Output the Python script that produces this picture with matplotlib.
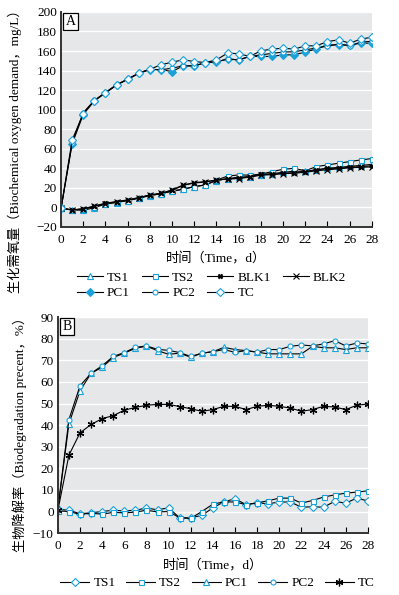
import matplotlib
matplotlib.use("Agg")
import matplotlib.pyplot as plt
import numpy as np

plt.rcParams['font.family'] = ['Liberation Serif', 'Noto Sans CJK SC']
plt.rcParams['font.size'] = 9.5

days = list(range(29))

# panel A: biochemical oxygen demand (mg/L)
a_ts1 = [-1, -2.5, -3, -0.2, 3.5, 5, 7, 9.5, 12, 14, 16.5, 18.6, 21.3, 23, 27.5,
         29.5, 31, 31.5, 33.5, 34.5, 36, 37, 37, 38.5, 40, 41, 42, 43, 44]
a_ts2 = [-1, -2.5, -1.5, 0.5, 3.5, 5.5, 7, 9.5, 12.5, 14, 17, 18.6, 21.3, 23, 28,
         32, 33.3, 33, 34, 36.7, 39, 40, 37.5, 41.8, 43.5, 45.2, 46.9, 48.6, 50]
a_blk1 = [-0.8, -2.6, -1.5, 1.5, 4.3, 6, 7.7, 10, 12.8, 14.5, 17.9, 23, 25.4, 26.4, 28,
          29.2, 30, 31.5, 34, 34, 35, 35.6, 36.7, 38.4, 40, 40, 41.1, 41.8, 42.5]
a_blk2 = [-0.8, -2.6, -1.5, 1.3, 4, 5.8, 7.5, 10, 12.5, 14.3, 17.5, 22.5, 25, 26, 28,
          29, 29.5, 31, 33, 33.5, 34.5, 35, 36, 37.5, 38.5, 39.5, 40.5, 41, 41.5]
a_pc1 = [-1, 65, 95, 109, 117, 125, 131, 137, 141, 141, 139, 144.8, 144.8, 148, 149,
         151.7, 151, 154.4, 154.5, 154.4, 156.1, 156, 159, 162, 166.3, 166.3, 166, 168, 168]
a_pc2 = [-1, 66, 97, 109.5, 117.5, 125.5, 131.2, 137.4, 141.4, 140.7, 142.5, 144.8, 144.8, 148.2, 149,
         151.7, 151, 154.4, 156.1, 157.5, 159, 159.2, 161.2, 163, 165, 167, 165.5, 169, 170]
a_tc = [-1, 69, 96, 109.3, 117.5, 125.4, 131.2, 137.4, 141.4, 145.9, 148.6, 151, 149.2, 148.2, 151,
        157.8, 157.3, 154.4, 160.2, 161.9, 162.9, 161.9, 165.3, 165.3, 169.7, 171.4, 168, 172.1, 174.2]

# panel B: biodegradation percent (%)
b_ts1 = [1, 0.6, -1, -0.6, 0, 0.6, 0.3, 0.6, 1.6, 0.8, 1.7, -2.9, -2.9, -1.8, 1.7,
         4.5, 5.9, 3.2, 4, 3.6, 4.4, 4.4, 2, 2.2, 2, 4.7, 3.9, 6.2, 4.9]
b_ts2 = [0.3, 0, -1.3, -0.8, -1.2, -0.4, -0.6, -0.3, 0.6, -0.2, 0, -2.9, -3.2, 0, 3.4,
         4.5, 4.4, 3.2, 4, 5, 6.2, 6.2, 3.9, 5.1, 6.7, 7.7, 8.5, 9, 9.6]
b_pc1 = [1.1, 40.6, 55.9, 64, 66.8, 71.3, 73.3, 75.6, 76.5, 74.5, 72.8, 73.3, 71.4, 73.3, 74,
         76, 75, 74.5, 73.8, 73, 73, 73, 73, 76.5, 75.8, 75.8, 75, 75.8, 75.8]
b_pc2 = [1.1, 42.6, 58.2, 64, 67.5, 71.8, 73.6, 76, 76.7, 75.1, 74.6, 73.6, 71.8, 73.3, 74,
         75, 73.7, 74.5, 73.8, 75, 75, 76.5, 77.1, 76.7, 77.6, 79.1, 76.7, 78, 77.6]
b_tc = [0.5, 26.1, 36.4, 40.3, 43, 44.4, 46.9, 48.2, 49.2, 49.6, 49.6, 48.6, 47.6, 46.4, 47.2,
        48.7, 48.7, 47.2, 48.7, 49.2, 48.7, 47.9, 46.4, 47.2, 48.7, 48.4, 47.2, 49.2, 49.8]

blue = '#1BA1DA'
grey_bg = '#E6E7E8'
asterisk = (6, 2, 0)


def style_axes(ax, ylim, yticks):
    ax.set_facecolor(grey_bg)
    ax.set_xlim(0, 28)
    ax.set_ylim(*ylim)
    ax.set_xticks(range(0, 29, 2))
    ax.set_yticks(yticks)
    ax.grid(axis='y', color='white', linewidth=1.0)
    ax.set_axisbelow(True)
    for side in ['top', 'right']:
        ax.spines[side].set_visible(False)
    for side in ['left', 'bottom']:
        ax.spines[side].set_color('#333333')
        ax.spines[side].set_linewidth(1.4)
    ax.tick_params(axis='x', direction='in', length=4, width=0.8, pad=5)
    ax.tick_params(axis='y', length=0, pad=3)
    ax.set_yticklabels([('\u2212' + str(-t)) if t < 0 else str(t) for t in yticks])
    ax.set_xlabel('时间（Time，d）', labelpad=5)


def series(ax, y, marker, mfc, mec, ms=4, label=None, mew=0.8):
    return ax.plot(days, y, color='black', linewidth=0.8, marker=marker, markersize=ms,
                   markerfacecolor=mfc, markeredgecolor=mec, markeredgewidth=mew, label=label)[0]


fig = plt.figure(figsize=(3.99, 5.95), dpi=100)

# ---- panel A
axA = fig.add_axes([0.153, 0.6185, 0.779, 0.3615])
style_axes(axA, (-20, 200), list(range(-20, 201, 20)))
h_ts1 = series(axA, a_ts1, '^', 'white', blue, ms=4.2, label='TS1')
h_ts2 = series(axA, a_ts2, 's', 'white', blue, ms=3.6, label='TS2')
h_blk1 = series(axA, a_blk1, 'X', 'black', 'black', ms=3.5, label='BLK1', mew=0.4)
h_blk2 = series(axA, a_blk2, 'x', 'black', 'black', ms=4, label='BLK2')
h_pc1 = series(axA, a_pc1, 'D', blue, blue, ms=3.6, label='PC1')
h_pc2 = series(axA, a_pc2, 'o', 'white', blue, ms=3.6, label='PC2')
h_tc = series(axA, a_tc, 'D', 'white', blue, ms=4, label='TC')
axA.text(0.4, 190, 'A', fontsize=10, va='center', ha='left',
         bbox=dict(boxstyle='square,pad=0.15', fc='white', ec='black', lw=0.9))
fig.text(0.038, 1 - 148 / 595, '生化需氧量（Biochemical oxygen demand，mg/L）',
         rotation=90, ha='center', va='center', fontsize=9.5)
fig.legend([h_ts1, h_pc1, h_ts2, h_pc2, h_blk1, h_tc, h_blk2],
           ['TS1', 'PC1', 'TS2', 'PC2', 'BLK1', 'TC', 'BLK2'],
           ncol=4, loc='center', bbox_to_anchor=(0.53, 1 - 285.5 / 595), frameon=False,
           handlelength=2.0, handletextpad=0.3, columnspacing=0.9, labelspacing=0.25,
           fontsize=9.5)

# ---- panel B
axB = fig.add_axes([0.145, 0.104, 0.777, 0.363])
style_axes(axB, (-10, 90), list(range(-10, 91, 10)))
g_ts1 = series(axB, b_ts1, 'D', 'white', blue, ms=4, label='TS1')
g_ts2 = series(axB, b_ts2, 's', 'white', blue, ms=3.6, label='TS2')
g_pc1 = series(axB, b_pc1, '^', 'white', blue, ms=4.4, label='PC1')
g_pc2 = series(axB, b_pc2, 'o', 'white', blue, ms=3.6, label='PC2')
g_tc = series(axB, b_tc, asterisk, 'black', 'black', ms=5.5, label='TC', mew=0.9)
axB.text(0.4, 85.5, 'B', fontsize=10, va='center', ha='left',
         bbox=dict(boxstyle='square,pad=0.15', fc='white', ec='black', lw=0.9))
fig.text(0.05, 1 - 431 / 595, '生物降解率（Biodegradation precent，%）',
         rotation=90, ha='center', va='center', fontsize=9.5)
fig.legend([g_ts1, g_ts2, g_pc1, g_pc2, g_tc], ['TS1', 'TS2', 'PC1', 'PC2', 'TC'],
           ncol=5, loc='center', bbox_to_anchor=(0.545, 1 - 583 / 595), frameon=False,
           handlelength=2.2, handletextpad=0.3, columnspacing=0.8, fontsize=9.5)

fig.savefig('out.png', dpi=100)
